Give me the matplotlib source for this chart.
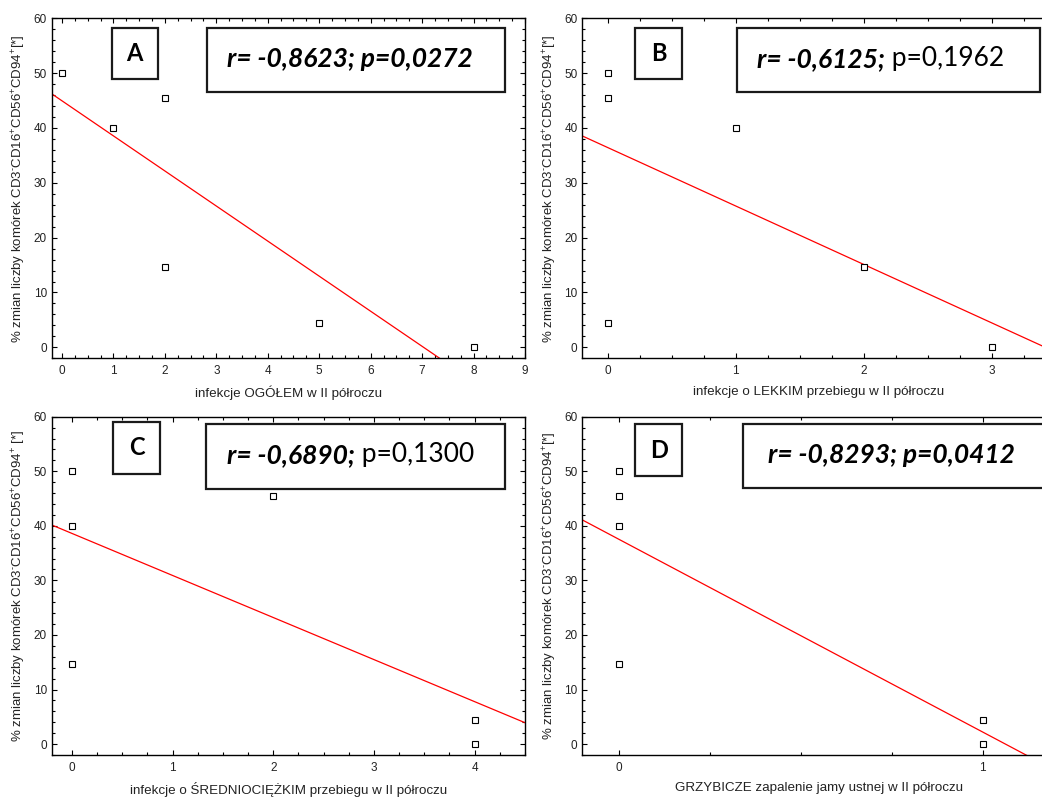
import numpy as np
import matplotlib
matplotlib.use("Agg")
import matplotlib.pyplot as plt
from matplotlib.patches import Rectangle
from matplotlib.ticker import MultipleLocator

plt.rcParams['font.family'] = ['Liberation Sans', 'DejaVu Sans']
plt.rcParams['mathtext.fontset'] = 'custom'
plt.rcParams['mathtext.rm'] = 'Liberation Sans'

# data
x_a = [0, 1, 2, 2, 5, 8]
y_a = [50.0, 40.0, 45.5, 14.7, 4.4, 0.0]
x_b = [0, 0, 0, 1, 2, 3]
y_b = [50.0, 45.5, 4.4, 40.0, 14.7, 0.0]
x_c = [0, 0, 0, 2, 4, 4]
y_c = [50.0, 40.0, 14.7, 45.5, 4.4, 0.0]
x_d = [0, 0, 0, 0, 1, 1]
y_d = [50.0, 45.5, 40.0, 14.7, 4.4, 0.0]

letters = ['A', 'B', 'C', 'D']
r_text = ['r= -0,8623; p=0,0272', 'r= -0,6125;', 'r= -0,6890;', 'r= -0,8293; p=0,0412']
p_text = ['', ' p=0,1962', ' p=0,1300', '']
xlabels = ['infekcje OGÓŁEM w II półroczu',
           'infekcje o LEKKIM przebiegu w II półroczu',
           'infekcje o ŚREDNIOCIĘŻKIM przebiegu w II półroczu',
           'GRZYBICZE zapalenie jamy ustnej w II półroczu']
ylab = r'% zmian liczby komórek CD3$^{\text{-}}$CD16$^{\text{+}}$CD56$^{\text{+}}$CD94$^{\text{+}}$[*]'
ylab_c = r'% zmian liczby komórek CD3$^{\text{-}}$CD16$^{\text{+}}$CD56$^{\text{+}}$CD94$^{\text{+}}$ [*]'

W, H = 1042, 798
fig = plt.figure(figsize=(W / 100, H / 100), dpi=100)


def px_axes(left, top, width, height):
    return fig.add_axes([left / W, 1 - (top + height) / H, width / W, height / H])


ax_a = px_axes(51.7, 18.3, 473.3, 340)
ax_b = px_axes(582.3, 18.3, 473.3, 340)
ax_c = px_axes(51.7, 416.7, 473.3, 338.3)
ax_d = px_axes(582.3, 416.7, 473.3, 338.3)
axes = [ax_a, ax_b, ax_c, ax_d]
xs = [x_a, x_b, x_c, x_d]
ys = [y_a, y_b, y_c, y_d]
xlims = [(-0.2, 9), (-0.2, 3.5), (-0.2, 4.5), (-0.1, 1.2)]

# box geometry in axes fractions: (x0, x1, y0, y1)
letter_box = [(0.1268, 0.2240, 0.821, 0.9706), (0.1113, 0.2113, 0.821, 0.9706),
              (0.130, 0.2288, 0.8306, 0.9852), (0.1113, 0.2113, 0.8247, 0.9775)]
r_box = [(0.3275, 0.9577, 0.7832, 0.9706), (0.3275, 0.9672, 0.7832, 0.9706),
         (0.326, 0.9577, 0.7872, 0.9775), (0.3402, 1.2, 0.7884, 0.9775)]
r_pos = [(0.3697, 0.8794), (0.3697, 0.8794), (0.3697, 0.8868), (0.3918, 0.8868)]

box_font = ['Lato', 'DejaVu Sans']

for i, ax in enumerate(axes):
    x = np.array(xs[i], dtype=float)
    y = np.array(ys[i], dtype=float)
    ax.plot(x, y, 's', mfc='white', mec='black', ms=5, mew=0.8, zorder=3)
    slope, icpt = np.polyfit(x, y, 1)
    lx = np.array(xlims[i])
    ax.plot(lx, icpt + slope * lx, color='red', lw=0.9, zorder=2)
    ax.set_xlim(*xlims[i])
    ax.set_ylim(-2, 60)
    ax.xaxis.set_major_locator(MultipleLocator(1))
    ax.xaxis.set_minor_locator(MultipleLocator(0.25))
    ax.yaxis.set_major_locator(MultipleLocator(10))
    ax.yaxis.set_minor_locator(MultipleLocator(2))
    ax.tick_params(which='both', direction='in', top=True, right=True,
                   labelsize=8.5, colors='black', labelcolor='#222222', width=0.8)
    ax.tick_params(which='major', length=3.5)
    ax.tick_params(which='minor', length=2)
    ax.tick_params(axis='x', which='major', pad=5)
    ax.tick_params(axis='y', which='major', pad=3.5)
    for s in ax.spines.values():
        s.set_linewidth(1.0)
    ax.set_xlabel(xlabels[i], fontsize=9.6, labelpad=6, color='#222222')
    ax.set_ylabel(ylab_c if i == 2 else ylab, fontsize=9.5, labelpad=4,
                  color='#222222')

    x0, x1, y0, y1 = letter_box[i]
    ax.add_patch(Rectangle((x0, y0), x1 - x0, y1 - y0, transform=ax.transAxes,
                           fill=True, fc='white', ec='#1a1a1a', lw=1.6,
                           clip_on=False, zorder=5))
    ax.text((x0 + x1) / 2, (y0 + y1) / 2, letters[i], transform=ax.transAxes,
            ha='center', va='center', fontsize=17, fontweight='bold',
            family=box_font, zorder=6)

    x0, x1, y0, y1 = r_box[i]
    ax.add_patch(Rectangle((x0, y0), x1 - x0, y1 - y0, transform=ax.transAxes,
                           fill=True, fc='white', ec='#1a1a1a', lw=1.6,
                           clip_on=False, zorder=5))
    t1 = ax.text(r_pos[i][0], r_pos[i][1], r_text[i], transform=ax.transAxes,
                 ha='left', va='center', fontsize=19, fontweight='bold',
                 fontstyle='italic', family=box_font, zorder=6)
    if p_text[i]:
        ax.annotate(p_text[i], xy=(1, 0), xycoords=t1, ha='left', va='bottom',
                    fontsize=19, family=box_font, zorder=6)

fig.savefig('out.png', dpi=100)
